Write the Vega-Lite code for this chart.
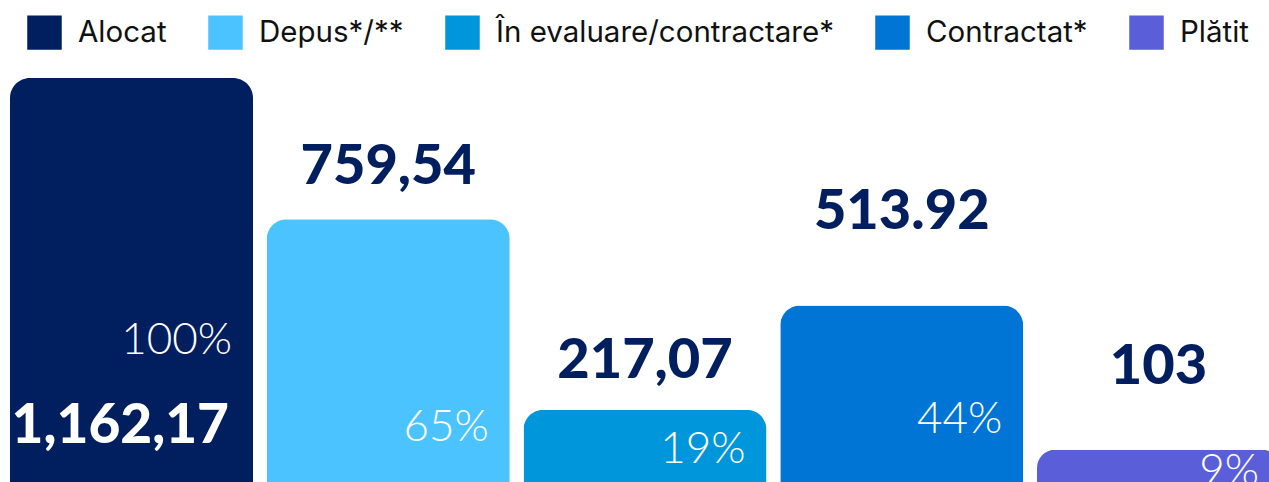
{
  "$schema": "https://vega.github.io/schema/vega-lite/v6.json",
  "width": 1269,
  "height": 482,
  "autosize": {"type": "none"},
  "padding": 0,
  "background": "#ffffff",
  "config": {
    "view": {"stroke": null},
    "legend": {
      "padding": 0,
      "labelFont": "Inter",
      "labelFontSize": 29.5,
      "labelFontWeight": 400,
      "labelColor": "#111111",
      "labelLimit": 0,
      "labelOffset": 16,
      "columnPadding": 41,
      "symbolType": "square",
      "symbolSize": 1190,
      "symbolStrokeWidth": 0,
      "symbolOpacity": 1
    }
  },
  "data": {
    "values": [
      {"cat": "Alocat", "value": 1162.17, "label": "1,162,17", "pct": "100%"},
      {"cat": "Depus*/**", "value": 759.54, "label": "759,54", "pct": "65%"},
      {"cat": "În evaluare/contractare*", "value": 217.07, "label": "217,07", "pct": "19%"},
      {"cat": "Contractat*", "value": 513.92, "label": "513.92", "pct": "44%"},
      {"cat": "Plătit", "value": 103, "label": "103", "pct": "9%"}
    ]
  },
  "encoding": {
    "x": {
      "field": "cat",
      "type": "nominal",
      "sort": null,
      "axis": null,
      "scale": {"range": [10, 1280], "paddingInner": 0.05355, "paddingOuter": 0}
    },
    "y": {
      "field": "value",
      "type": "quantitative",
      "axis": null,
      "scale": {"domain": [0, 1162.17], "range": [486, 78], "nice": false, "zero": true}
    }
  },
  "layer": [
    {
      "mark": {"type": "bar", "cornerRadiusTopLeft": 20, "cornerRadiusTopRight": 20},
      "encoding": {
        "color": {
          "field": "cat",
          "type": "nominal",
          "sort": null,
          "scale": {
            "domain": ["Alocat", "Depus*/**", "În evaluare/contractare*", "Contractat*", "Plătit"],
            "range": ["#011E5E", "#4AC3FF", "#0096DC", "#0075D5", "#5A5ED9"]
          },
          "legend": {
            "title": null,
            "orient": "none",
            "direction": "horizontal",
            "legendX": 27,
            "legendY": 15
          }
        }
      }
    },
    {
      "mark": {
        "type": "text",
        "font": "Lato",
        "fontWeight": 300,
        "fontSize": 44,
        "color": "#ffffff",
        "align": "right",
        "baseline": "alphabetic",
        "dx": -21,
        "dy": {"expr": "datum.cat === 'Alocat' ? 276 : datum.cat === 'Depus*/**' ? 222 : datum.cat === 'Contractat*' ? 127 : datum.cat === 'Plătit' ? 35 : 53"}
      },
      "encoding": {
        "x": {"field": "cat", "type": "nominal", "sort": null, "bandPosition": 1},
        "text": {"field": "pct"}
      }
    },
    {
      "transform": [{"filter": "datum.cat !== 'Alocat'"}],
      "mark": {
        "type": "text",
        "font": "Lato",
        "fontWeight": 900,
        "fontSize": 56,
        "color": "#011E5E",
        "align": "center",
        "baseline": "alphabetic",
        "dy": {"expr": "datum.cat === 'Depus*/**' ? -35 : datum.cat === 'Contractat*' ? -77 : datum.cat === 'Plătit' ? -66 : -32"}
      },
      "encoding": {
        "text": {"field": "label"}
      }
    },
    {
      "transform": [{"filter": "datum.cat === 'Alocat'"}],
      "mark": {
        "type": "text",
        "font": "Lato",
        "fontWeight": 900,
        "fontSize": 55,
        "color": "#ffffff",
        "align": "right",
        "baseline": "alphabetic",
        "dx": -24,
        "dy": 365
      },
      "encoding": {
        "x": {"field": "cat", "type": "nominal", "sort": null, "bandPosition": 1},
        "text": {"field": "label"}
      }
    }
  ]
}
